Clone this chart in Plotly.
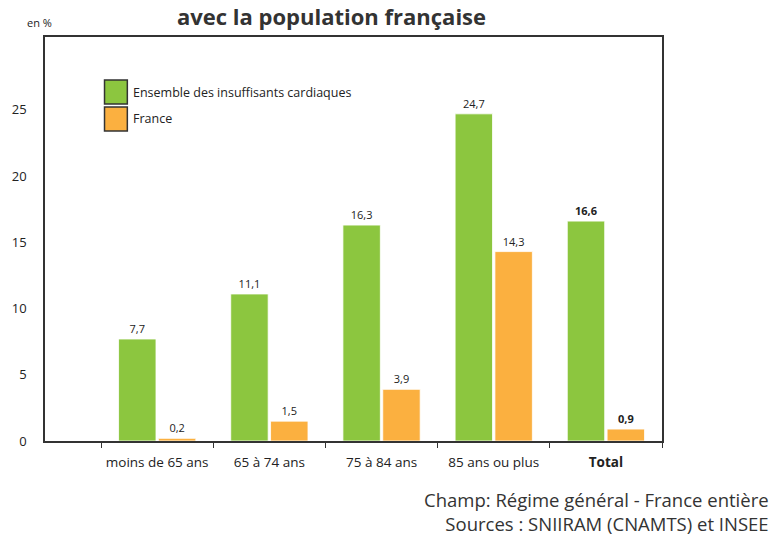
import plotly.graph_objects as go

# ---- data ----
categories = ["moins de 65 ans", "65 à 74 ans", "75 à 84 ans", "85 ans ou plus", "Total"]
tick_labels = ["moins de 65 ans", "65 à 74 ans", "75 à 84 ans", "85 ans ou plus", "<b>Total</b>"]
series_names = ["Ensemble des insuffisants cardiaques", "France"]
insuffisants = [7.7, 11.1, 16.3, 24.7, 16.6]
france = [0.2, 1.5, 3.9, 14.3, 0.9]
y_ticks = [0, 5, 10, 15, 20, 25]
source_lines = ["Champ: Régime général - France entière", "Sources : SNIIRAM (CNAMTS) et INSEE"]

colors = ["#8cc63f", "#fbb040"]
FONT = "Open Sans"

# plot area in pixels (for placing decorations)
W, H = 773, 538
PX0, PX1, PY0, PY1 = 40, 662, 37, 441


def px(x):
    return (x - PX0) / (PX1 - PX0)


def py(y):
    return (PY1 - y) / (PY1 - PY0)


def fmt(v, bold=False):
    s = f"{v:.1f}".replace(".", ",")
    return f"<b>{s}</b>" if bold else s


fig = go.Figure()
for name, vals, col in zip(series_names, [insuffisants, france], colors):
    fig.add_trace(go.Bar(
        x=categories, y=vals, name=name,
        marker=dict(color=col, line=dict(color="white", width=0.8)),
        text=[fmt(v, c == "Total") for v, c in zip(vals, categories)],
        textposition="outside", cliponaxis=False,
        textfont=dict(family=FONT, size=11, color="#222"),
        showlegend=False,
    ))

fig.update_layout(
    width=W, height=H,
    margin=dict(l=PX0, r=W - PX1, t=PY0, b=H - PY1),
    paper_bgcolor="white", plot_bgcolor="white",
    barmode="group", bargap=0.29, bargroupgap=0.06,
    font=dict(family=FONT, color="#222"),
    separators=", ",
)
fig.update_xaxes(
    type="category", categoryorder="array", categoryarray=categories,
    range=[-1.0, 4.5],
    tickmode="array", tickvals=categories, ticktext=tick_labels,
    tickson="boundaries", ticks="outside", ticklen=5, tickwidth=1.2, tickcolor="#333",
    ticklabelstandoff=8, tickangle=0,
    showline=True, linecolor="#333", linewidth=1.5, mirror=True,
    tickfont=dict(family=FONT, size=13.5, color="#222"),
    showgrid=False,
)
fig.update_yaxes(
    range=[0, 30.5], tickvals=y_ticks,
    showline=True, linecolor="#333", linewidth=1.5, mirror=True,
    showgrid=False, zeroline=False, ticks="",
    ticklabelstandoff=14,
    tickfont=dict(family=FONT, size=13, color="#222"),
)

# manual legend
boxes = [(80, 104, 92), (107, 131, 119)]
for (top, bot, mid), name, col in zip(boxes, series_names, colors):
    fig.add_shape(type="rect", xref="paper", yref="paper",
                  x0=px(100), x1=px(123), y0=py(bot), y1=py(top),
                  fillcolor=col, line=dict(color="#333", width=1.5))
    fig.add_annotation(xref="paper", yref="paper", x=px(127), y=py(mid),
                       xanchor="left", yanchor="middle", showarrow=False,
                       text=name, font=dict(family=FONT, size=12.5, color="#222"))

# title (only the second line is visible)
fig.add_annotation(xref="paper", yref="paper", x=px(329), y=py(16),
                   xanchor="center", yanchor="middle", showarrow=False,
                   text="<b>avec la population française</b>",
                   font=dict(family=FONT, size=22, color="#333"))
fig.add_annotation(xref="paper", yref="paper", x=px(20), y=py(23),
                   xanchor="left", yanchor="middle", showarrow=False,
                   text="en %", font=dict(family=FONT, size=11, color="#222"))
# sources
fig.add_annotation(xref="paper", yref="paper", x=px(772), y=py(511),
                   xanchor="right", yanchor="middle", align="right", showarrow=False,
                   text="<br>".join(source_lines),
                   font=dict(family=FONT, size=18.5, color="#333"))

fig.write_html("out.html", config={"displayModeBar": False},
               post_script="document.body.style.margin='0';")
